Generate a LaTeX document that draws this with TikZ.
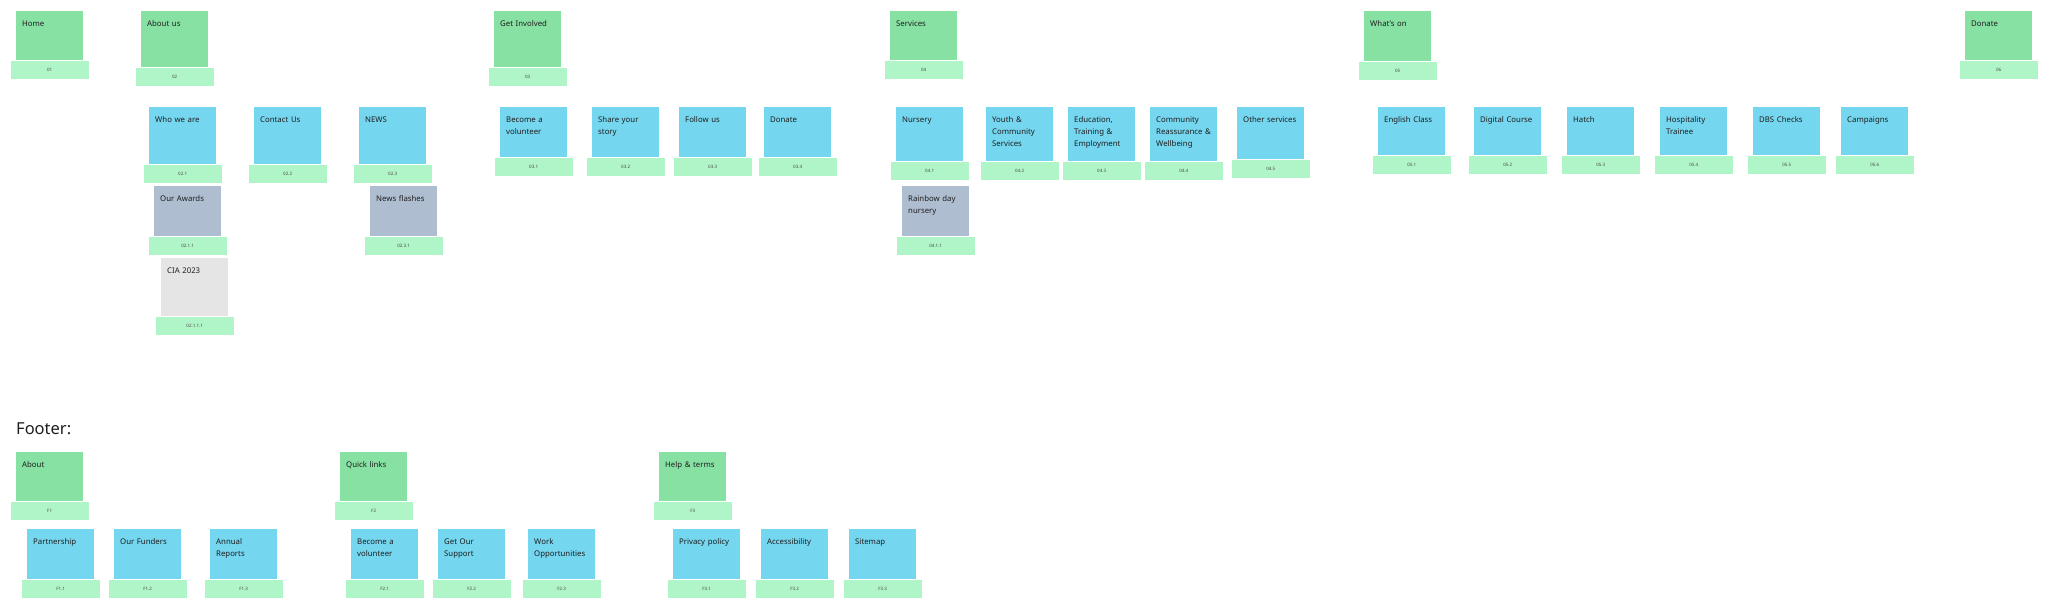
\documentclass[tikz,border=0pt]{standalone}
\usepackage{fontspec}
\setmainfont{Noto Sans}
\usepackage{tikz}
\usetikzlibrary{positioning}
\definecolor{topfill}{HTML}{87E1A3}
\definecolor{tagfill}{HTML}{B0F5C7}
\definecolor{pagefill}{HTML}{75D6EF}
\definecolor{subfill}{HTML}{AFBDD0}
\definecolor{leaffill}{HTML}{E5E5E5}
\definecolor{ink}{HTML}{1E1E1E}

\begin{document}
\begin{tikzpicture}[x=1pt,y=-1pt,
  card/.style={rectangle,anchor=north west,inner xsep=6pt,inner ysep=0pt,
    text width=55pt,text height=15pt,align=left,text=ink,
    font=\fontsize{7.8}{12}\selectfont},
  topcard/.style={card,fill=topfill},
  pagecard/.style={card,fill=pagefill},
  subcard/.style={card,fill=subfill},
  leafcard/.style={card,fill=leaffill},
  tag/.style={rectangle,fill=tagfill,minimum width=78pt,minimum height=18pt,
    inner sep=0pt,text=ink!80,font=\fontsize{4.5}{5}\selectfont}]
  \useasboundingbox[fill=white] (0,0) rectangle (2048,609);

  \node[topcard,text depth=34pt] (home) at (16,11) {Home};
  \node[tag,below=0pt of home] (hometag) {01};
  \node[topcard,text depth=41pt] (about) at (141,11) {About us};
  \node[tag,below=0pt of about] (abouttag) {02};
  \node[topcard,text depth=41pt] (involved) at (494,11) {Get Involved};
  \node[tag,below=0pt of involved] (involvedtag) {03};
  \node[topcard,text depth=34pt] (services) at (890,11) {Services};
  \node[tag,below=0pt of services] (servicestag) {04};
  \node[topcard,text depth=35pt] (whatson) at (1364,11) {What's on};
  \node[tag,below=0pt of whatson] (whatsontag) {05};
  \node[topcard,text depth=34pt] (donate) at (1965,11) {Donate};
  \node[tag,below=0pt of donate] (donatetag) {06};

  \node[pagecard,text depth=42pt] (who) at (149,107) {Who we are};
  \node[tag,below=0pt of who] (whotag) {02.1};
  \node[pagecard,text depth=42pt] (contact) at (254,107) {Contact Us};
  \node[tag,below=0pt of contact] (contacttag) {02.2};
  \node[pagecard,text depth=42pt] (news) at (359,107) {NEWS};
  \node[tag,below=0pt of news] (newstag) {02.3};
  \node[subcard,text depth=35pt] (awards) at (154,186) {Our Awards};
  \node[tag,below=0pt of awards] (awardstag) {02.1.1};
  \node[leafcard,text depth=43pt] (cia) at (161,258) {CIA 2023};
  \node[tag,below=0pt of cia] (ciatag) {02.1.1.1};
  \node[subcard,text depth=35pt] (flashes) at (370,186) {News flashes};
  \node[tag,below=0pt of flashes] (flashestag) {02.3.1};

  \node[pagecard,text depth=35pt] (volunteer) at (500,107) {Become a\\volunteer};
  \node[tag,below=0pt of volunteer] (volunteertag) {03.1};
  \node[pagecard,text depth=35pt] (story) at (592,107) {Share your\\story};
  \node[tag,below=0pt of story] (storytag) {03.2};
  \node[pagecard,text depth=35pt] (follow) at (679,107) {Follow us};
  \node[tag,below=0pt of follow] (followtag) {03.3};
  \node[pagecard,text depth=35pt] (give) at (764,107) {Donate};
  \node[tag,below=0pt of give] (givetag) {03.4};

  \node[pagecard,text depth=39pt] (nursery) at (896,107) {Nursery};
  \node[tag,below=0pt of nursery] (nurserytag) {04.1};
  \node[pagecard,text depth=39pt] (youth) at (986,107) {Youth \&\\Community\\Services};
  \node[tag,below=0pt of youth] (youthtag) {04.2};
  \node[pagecard,text depth=39pt] (education) at (1068,107) {Education,\\Training \&\\Employment};
  \node[tag,below=0pt of education] (educationtag) {04.3};
  \node[pagecard,text depth=39pt] (community) at (1150,107) {Community\\Reassurance~\&\\Wellbeing};
  \node[tag,below=0pt of community] (communitytag) {04.4};
  \node[pagecard,text depth=37pt] (other) at (1237,107) {Other services};
  \node[tag,below=0pt of other] (othertag) {04.5};
  \node[subcard,text depth=35pt] (rainbow) at (902,186) {Rainbow day\\nursery};
  \node[tag,below=0pt of rainbow] (rainbowtag) {04.1.1};

  \node[pagecard,text depth=33pt] (english) at (1378,107) {English Class};
  \node[tag,below=0pt of english] (englishtag) {05.1};
  \node[pagecard,text depth=33pt] (digital) at (1474,107) {Digital Course};
  \node[tag,below=0pt of digital] (digitaltag) {05.2};
  \node[pagecard,text depth=33pt] (hatch) at (1567,107) {Hatch};
  \node[tag,below=0pt of hatch] (hatchtag) {05.3};
  \node[pagecard,text depth=33pt] (hospitality) at (1660,107) {Hospitality\\Trainee};
  \node[tag,below=0pt of hospitality] (hospitalitytag) {05.4};
  \node[pagecard,text depth=33pt] (dbs) at (1753,107) {DBS Checks};
  \node[tag,below=0pt of dbs] (dbstag) {05.5};
  \node[pagecard,text depth=33pt] (campaigns) at (1841,107) {Campaigns};
  \node[tag,below=0pt of campaigns] (campaignstag) {05.6};

  \node[anchor=base west,inner sep=0pt,text=ink,font=\fontsize{16.5}{18}\selectfont] (footer) at (16,434) {Footer:};

  \node[topcard,text depth=34pt] (fabout) at (16,452) {About};
  \node[tag,below=0pt of fabout] (fabouttag) {F1};
  \node[topcard,text depth=34pt] (quick) at (340,452) {Quick links};
  \node[tag,below=0pt of quick] (quicktag) {F2};
  \node[topcard,text depth=34pt] (help) at (659,452) {Help \& terms};
  \node[tag,below=0pt of help] (helptag) {F3};

  \node[pagecard,text depth=35pt] (partner) at (27,529) {Partnership};
  \node[tag,below=0pt of partner] (partnertag) {F1.1};
  \node[pagecard,text depth=35pt] (funders) at (114,529) {Our Funders};
  \node[tag,below=0pt of funders] (funderstag) {F1.2};
  \node[pagecard,text depth=35pt] (reports) at (210,529) {Annual\\Reports};
  \node[tag,below=0pt of reports] (reportstag) {F1.3};
  \node[pagecard,text depth=35pt] (fvolunteer) at (351,529) {Become a\\volunteer};
  \node[tag,below=0pt of fvolunteer] (fvolunteertag) {F2.1};
  \node[pagecard,text depth=35pt] (support) at (438,529) {Get Our\\Support};
  \node[tag,below=0pt of support] (supporttag) {F2.2};
  \node[pagecard,text depth=35pt] (work) at (528,529) {Work\\Opportunities};
  \node[tag,below=0pt of work] (worktag) {F2.3};
  \node[pagecard,text depth=35pt] (privacy) at (673,529) {Privacy policy};
  \node[tag,below=0pt of privacy] (privacytag) {F3.1};
  \node[pagecard,text depth=35pt] (access) at (761,529) {Accessibility};
  \node[tag,below=0pt of access] (accesstag) {F3.2};
  \node[pagecard,text depth=35pt] (sitemap) at (849,529) {Sitemap};
  \node[tag,below=0pt of sitemap] (sitemaptag) {F3.3};
\end{tikzpicture}
\end{document}
